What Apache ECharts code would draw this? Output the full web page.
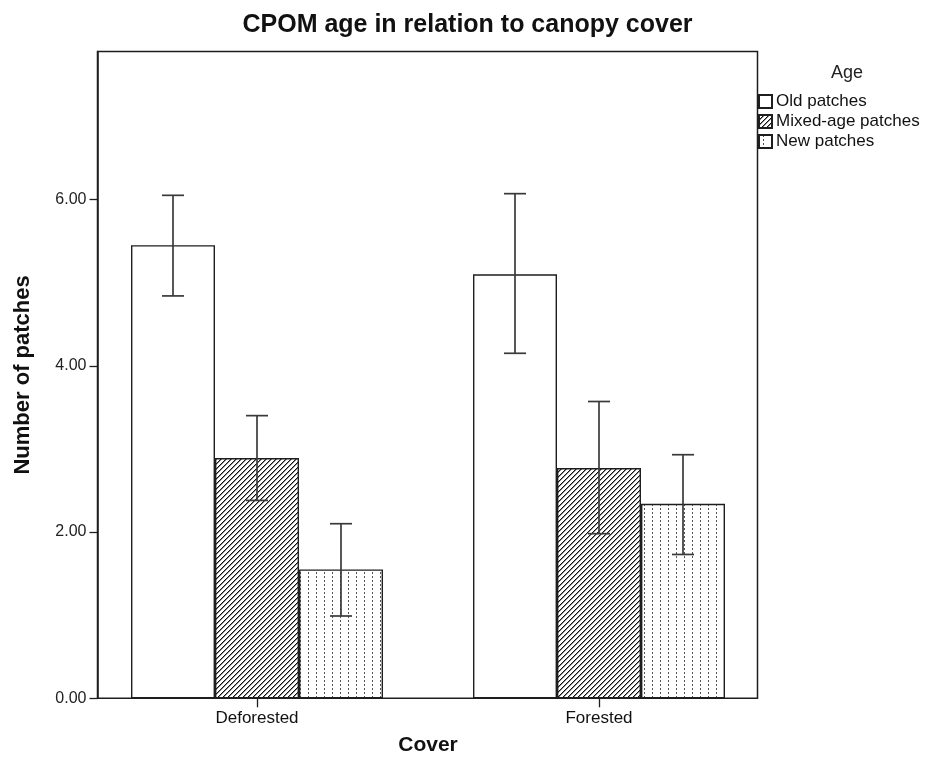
<!DOCTYPE html>
<html>
<head>
<meta charset="utf-8">
<title>CPOM age in relation to canopy cover</title>
<script src="https://cdn.jsdelivr.net/npm/echarts/dist/echarts.min.js"></script>
<style>
  html, body { margin: 0; padding: 0; background: #ffffff; }
  #chart { width: 935px; height: 764px; }
</style>
</head>
<body>
<div id="chart"></div>
<script>
// Mean number of patches per canopy cover class, with 95% CI bounds
const categories = ['Deforested', 'Forested'];
const seriesNames = ['Old patches', 'Mixed-age patches', 'New patches'];

const oldMeans = [5.45, 5.10];
const mixedMeans = [2.89, 2.77];
const newMeans = [1.55, 2.34];

const oldLow = [4.84, 4.15];
const oldHigh = [6.05, 6.07];
const mixedLow = [2.38, 1.98];
const mixedHigh = [3.40, 3.57];
const newLow = [0.99, 1.73];
const newHigh = [2.10, 2.93];

const yTicks = [0, 2, 4, 6];
const yMin = 0;
const yMax = 7.78;

// Layout constants
const BAR_W = 84;
const CAP = 11;
const FONT = '"Liberation Sans", Arial, Helvetica, sans-serif';
const INK = '#1e1e1e';

// Fill patterns drawn on small canvases
function hatchPattern() {
  const c = document.createElement('canvas');
  c.width = 5; c.height = 5;
  const g = c.getContext('2d');
  g.fillStyle = '#ffffff';
  g.fillRect(0, 0, 5, 5);
  for (let y = 0; y < 5; y++) {
    g.fillStyle = '#111111';
    g.fillRect(4 - y, y, 1, 1);
    g.fillStyle = '#8a8a8a';
    g.fillRect((5 - y) % 5, y, 1, 1);
  }
  return { image: c, repeat: 'repeat' };
}

function dotPattern() {
  const c = document.createElement('canvas');
  c.width = 8; c.height = 4;
  const g = c.getContext('2d');
  g.fillStyle = '#ffffff';
  g.fillRect(0, 0, 8, 4);
  g.fillStyle = '#555555';
  g.fillRect(4, 0, 1, 2);
  return { image: c, repeat: 'repeat' };
}

const fills = ['#ffffff', hatchPattern(), dotPattern()];
const means = [oldMeans, mixedMeans, newMeans];
const lows = [oldLow, mixedLow, newLow];
const highs = [oldHigh, mixedHigh, newHigh];

const barSeries = seriesNames.map((name, k) => ({
  type: 'bar',
  name: name,
  xAxisIndex: 0,
  yAxisIndex: 0,
  data: means[k],
  barWidth: BAR_W,
  barGap: '0%',
  itemStyle: { color: fills[k], borderColor: INK, borderWidth: 1.4 },
  emphasis: { disabled: true },
  silent: true
}));

function errorBarSeries(k) {
  const lineStyle = { stroke: '#3a3a3a', lineWidth: 1.7 };
  return {
    type: 'custom',
    name: seriesNames[k] + ' 95% CI',
    xAxisIndex: 0,
    yAxisIndex: 0,
    z: 10,
    silent: true,
    data: categories.map((c, i) => [i, lows[k][i], highs[k][i]]),
    encode: { x: 0, y: [1, 2] },
    renderItem: function (params, api) {
      const i = api.value(0);
      const top = api.coord([i, api.value(2)]);
      const bot = api.coord([i, api.value(1)]);
      const x = top[0] + (k - 1) * BAR_W;
      return {
        type: 'group',
        children: [
          { type: 'line', shape: { x1: x, y1: top[1], x2: x, y2: bot[1] }, style: lineStyle },
          { type: 'line', shape: { x1: x - CAP, y1: top[1], x2: x + CAP, y2: top[1] }, style: lineStyle },
          { type: 'line', shape: { x1: x - CAP, y1: bot[1], x2: x + CAP, y2: bot[1] }, style: lineStyle }
        ]
      };
    }
  };
}

const chart = echarts.init(document.getElementById('chart'), null, { renderer: 'canvas' });

chart.setOption({
  backgroundColor: '#ffffff',
  animation: false,
  textStyle: { fontFamily: FONT },
  title: [
    {
      text: 'CPOM age in relation to canopy cover',
      left: 'center',
      top: 8,
      textStyle: { fontFamily: FONT, fontSize: 25, fontWeight: 'bold', color: '#111111' }
    },
    {
      text: 'Age',
      left: 826,
      top: 59,
      textStyle: { fontFamily: FONT, fontSize: 18, fontWeight: 'normal', color: '#222222' }
    }
  ],
  legend: {
    data: seriesNames,
    orient: 'vertical',
    left: 758,
    top: 93,
    padding: 0,
    itemWidth: 13,
    itemHeight: 13,
    itemGap: 3,
    icon: 'rect',
    selectedMode: false,
    textStyle: { fontFamily: FONT, fontSize: 17, color: '#111111', padding: [0, 0, 0, -1] }
  },
  grid: [
    // category band grid for bars
    { left: 86, top: 51.5, width: 684, height: 646.8, show: false },
    // plot frame
    { left: 97.5, top: 51.5, width: 660, height: 646.8, show: true,
      borderColor: INK, borderWidth: 1.5, backgroundColor: 'transparent' }
  ],
  xAxis: [
    {
      type: 'category',
      gridIndex: 0,
      data: categories,
      boundaryGap: true,
      axisLine: { show: false },
      axisTick: { show: true, alignWithLabel: true, length: 9, lineStyle: { color: INK, width: 1.3 } },
      axisLabel: { fontFamily: FONT, fontSize: 17, color: '#111111', margin: 12 },
      splitLine: { show: false },
      name: 'Cover',
      nameLocation: 'middle',
      nameGap: 36,
      nameTextStyle: { fontFamily: FONT, fontSize: 21, fontWeight: 'bold', color: '#111111' }
    },
    { type: 'value', gridIndex: 1, show: false, min: 0, max: 1 }
  ],
  yAxis: [
    { type: 'value', gridIndex: 0, min: yMin, max: yMax, show: false },
    {
      type: 'value',
      gridIndex: 1,
      min: yMin,
      max: yMax,
      axisLine: { show: true, lineStyle: { color: INK, width: 1.5 } },
      axisTick: { show: true, length: 8, customValues: yTicks, lineStyle: { color: INK, width: 1.3 } },
      axisLabel: {
        customValues: yTicks,
        fontFamily: FONT, fontSize: 16, color: '#222222', margin: 11,
        formatter: v => v.toFixed(2)
      },
      splitLine: { show: false },
      name: 'Number of patches',
      nameLocation: 'middle',
      nameGap: 64,
      nameTextStyle: { fontFamily: FONT, fontSize: 22, fontWeight: 'bold', color: '#111111' }
    }
  ],
  series: barSeries.concat([0, 1, 2].map(errorBarSeries))
});
</script>
</body>
</html>
